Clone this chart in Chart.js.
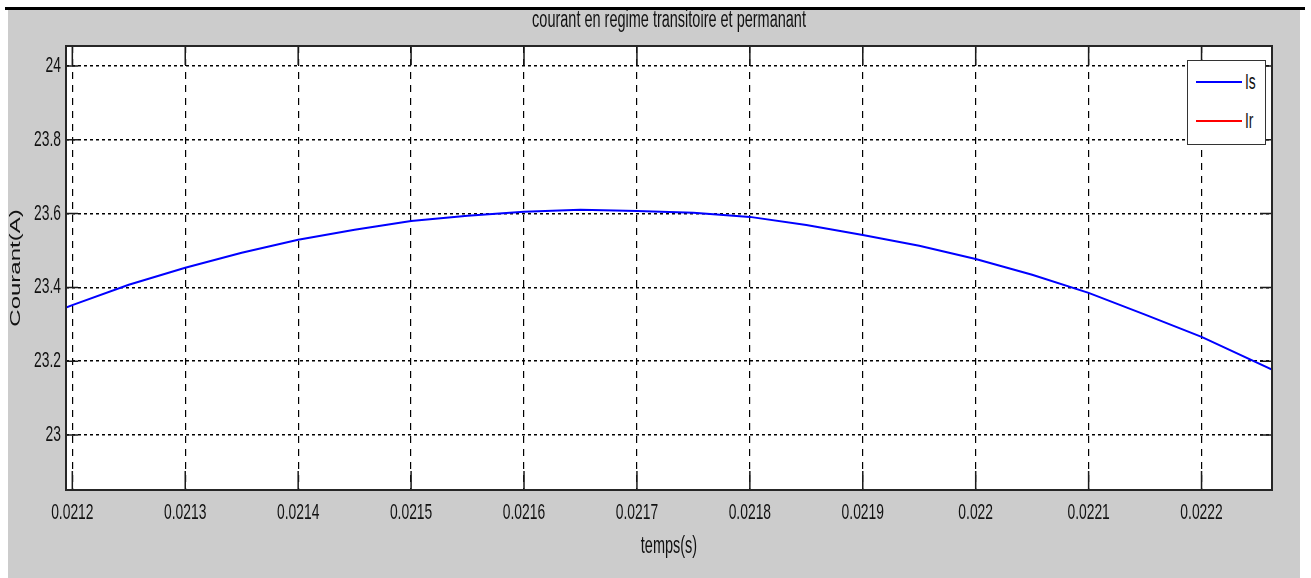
<!DOCTYPE html>
<html>
<head>
<meta charset="utf-8">
<script src="https://cdn.jsdelivr.net/npm/chart.js@4.4.1/dist/chart.umd.min.js"></script>
<style>
  body { margin: 0; width: 1311px; height: 578px; background: #fff; position: relative; overflow: hidden; }
  #topRule { position: absolute; left: 5px; top: 7px; width: 1300px; height: 3px; background: #000; }
  #figure { position: absolute; left: 8px; top: 10px; width: 1292px; height: 568px; background: #cccccc; }
  #figure canvas { position: absolute; left: 0; top: 0; }
  #legend { position: absolute; left: 1179px; top: 50px; width: 77px; height: 83px; background: #fff;
            border: 1px solid #333; font-family: 'Liberation Sans', Arial, sans-serif; font-size: 22px; color: #111; }
  .leg-line { position: absolute; left: 8px; width: 46px; height: 2px; }
  .leg-text { position: absolute; left: 57px; line-height: 22px; transform: scaleX(0.63); transform-origin: 0 0; }
</style>
</head>
<body>
<div id="topRule"></div>
<div id="figure">
  <canvas id="courantChart" width="1292" height="568"></canvas>
  <div id="legend"></div>
</div>
<script>
// axis limits and tick positions
const xMin = 0.0211944;
const xMax = 0.0222624;
const yMin = 22.851;
const yMax = 24.054;
const xTicks = [0.0212, 0.0213, 0.0214, 0.0215, 0.0216, 0.0217, 0.0218, 0.0219, 0.022, 0.0221, 0.0222];
const yTicks = [23, 23.2, 23.4, 23.6, 23.8, 24];

// sampled time (s) and stator current Is (A)
const timeValues = [0.0211944, 0.02120, 0.02125, 0.02130, 0.02135, 0.02140, 0.02145, 0.02150, 0.02155,
                    0.02160, 0.02165, 0.02170, 0.02175, 0.02180, 0.02185, 0.02190, 0.02195, 0.02200,
                    0.02205, 0.02210, 0.02215, 0.02220, 0.0222624];
const isValues = [23.345, 23.352, 23.407, 23.453, 23.494, 23.529, 23.556, 23.580, 23.594,
                  23.605, 23.610, 23.607, 23.602, 23.591, 23.569, 23.542, 23.513, 23.477,
                  23.434, 23.385, 23.326, 23.266, 23.177];
// rotor current Ir has no samples inside this window
const irTimes = [];
const irValues = [];

const sans = "'Liberation Sans', Arial, sans-serif";
const squeeze = 0.63; // figure text is drawn horizontally condensed

const toPoints = (xs, ys) => xs.map((t, i) => ({ x: t, y: ys[i] }));

const canvas = document.getElementById('courantChart');
const ctx2d = canvas.getContext('2d');

// condense every label along the page x direction around its anchor point
const plainFillText = ctx2d.fillText;
ctx2d.fillText = function (text, x, y) {
    const m = this.getTransform();
    const p = m.transformPoint(new DOMPoint(x, y));
    this.save();
    this.setTransform(new DOMMatrix().translate(p.x, p.y).scale(squeeze, 1).translate(-p.x, -p.y).multiply(m));
    plainFillText.call(this, text, x, y);
    this.restore();
};

// white axes background, inner tick marks and the frame
const axesBox = {
    id: 'axesBox',
    beforeDraw(chart) {
        const { ctx, chartArea: a } = chart;
        ctx.save();
        ctx.fillStyle = '#ffffff';
        ctx.fillRect(a.left, a.top, a.width, a.height);
        ctx.restore();
    },
    afterDraw(chart) {
        const { ctx, chartArea: a, scales: { x, y } } = chart;
        ctx.save();
        ctx.strokeStyle = '#1a1a1a';
        ctx.lineWidth = 1.5;
        ctx.beginPath();
        x.ticks.forEach(t => {
            const px = x.getPixelForValue(t.value);
            ctx.moveTo(px, a.bottom); ctx.lineTo(px, a.bottom - 19);
            ctx.moveTo(px, a.top); ctx.lineTo(px, a.top + 19);
        });
        y.ticks.forEach(t => {
            const py = y.getPixelForValue(t.value);
            ctx.moveTo(a.left, py); ctx.lineTo(a.left + 12, py);
            ctx.moveTo(a.right, py); ctx.lineTo(a.right - 12, py);
        });
        ctx.stroke();
        ctx.lineWidth = 2;
        ctx.strokeStyle = '#262626';
        ctx.strokeRect(a.left, a.top, a.width, a.height);
        ctx.restore();
    }
};

const chart = new Chart(canvas, {
    type: 'line',
    data: {
        datasets: [
            {
                label: 'Is',
                data: toPoints(timeValues, isValues),
                borderColor: '#0000ff',
                borderWidth: 2,
                pointRadius: 0,
                tension: 0,
                fill: false
            },
            {
                label: 'Ir',
                data: toPoints(irTimes, irValues),
                borderColor: '#ff0000',
                borderWidth: 2,
                pointRadius: 0,
                tension: 0,
                fill: false
            }
        ]
    },
    options: {
        responsive: false,
        animation: false,
        layout: { padding: { top: 0, right: 28, bottom: 0, left: 0 } },
        plugins: {
            legend: { display: false },
            tooltip: { enabled: false }
        },
        scales: {
            // top axis only carries the figure title, centred over the axes
            xTop: {
                type: 'linear',
                position: 'top',
                min: xMin,
                max: xMax,
                afterFit: s => { s.height = 36; },
                grid: { display: false, drawTicks: false },
                border: { display: false },
                ticks: { display: false },
                title: {
                    display: true,
                    text: 'courant en regime transitoire et permanant',
                    color: '#111',
                    font: { family: sans, size: 23, lineHeight: '22px' },
                    padding: { top: 0, bottom: 0 }
                }
            },
            x: {
                type: 'linear',
                min: xMin,
                max: xMax,
                afterBuildTicks: s => { s.ticks = xTicks.map(v => ({ value: v })); },
                afterFit: s => { s.height = 88; },
                grid: { color: '#000', lineWidth: 1.2, drawTicks: false },
                border: { display: false, dash: [7, 6] },
                ticks: {
                    autoSkip: false, maxRotation: 0, padding: 10, color: '#111',
                    font: { family: sans, size: 22 },
                    callback: v => String(v)
                },
                title: {
                    display: true, text: 'temps(s)', color: '#111',
                    font: { family: sans, size: 23, lineHeight: 1.2 },
                    padding: { top: 0, bottom: 18 }
                }
            },
            y: {
                type: 'linear',
                min: yMin,
                max: yMax,
                afterBuildTicks: s => { s.ticks = yTicks.map(v => ({ value: v })); },
                afterFit: s => { s.width = 58; },
                grid: { color: '#000', lineWidth: 1.5, drawTicks: false },
                border: { display: false, dash: [3, 3] },
                ticks: {
                    autoSkip: false, padding: 5, color: '#111',
                    font: { family: sans, size: 22 },
                    callback: v => String(v)
                },
                title: {
                    display: true, text: 'Courant(A)', color: '#111',
                    font: { family: sans, size: 24, lineHeight: '15px' },
                    padding: { top: 0, bottom: 0 }
                }
            }
        }
    },
    plugins: [axesBox]
});

// legend box built from the datasets
const legend = document.getElementById('legend');
chart.data.datasets.forEach((ds, i) => {
    const top = 21 + i * 39;
    const line = document.createElement('div');
    line.className = 'leg-line';
    line.style.top = (top - 1) + 'px';
    line.style.background = ds.borderColor;
    const text = document.createElement('div');
    text.className = 'leg-text';
    text.style.top = (top - 11) + 'px';
    text.textContent = ds.label;
    legend.appendChild(line);
    legend.appendChild(text);
});
</script>
</body>
</html>
